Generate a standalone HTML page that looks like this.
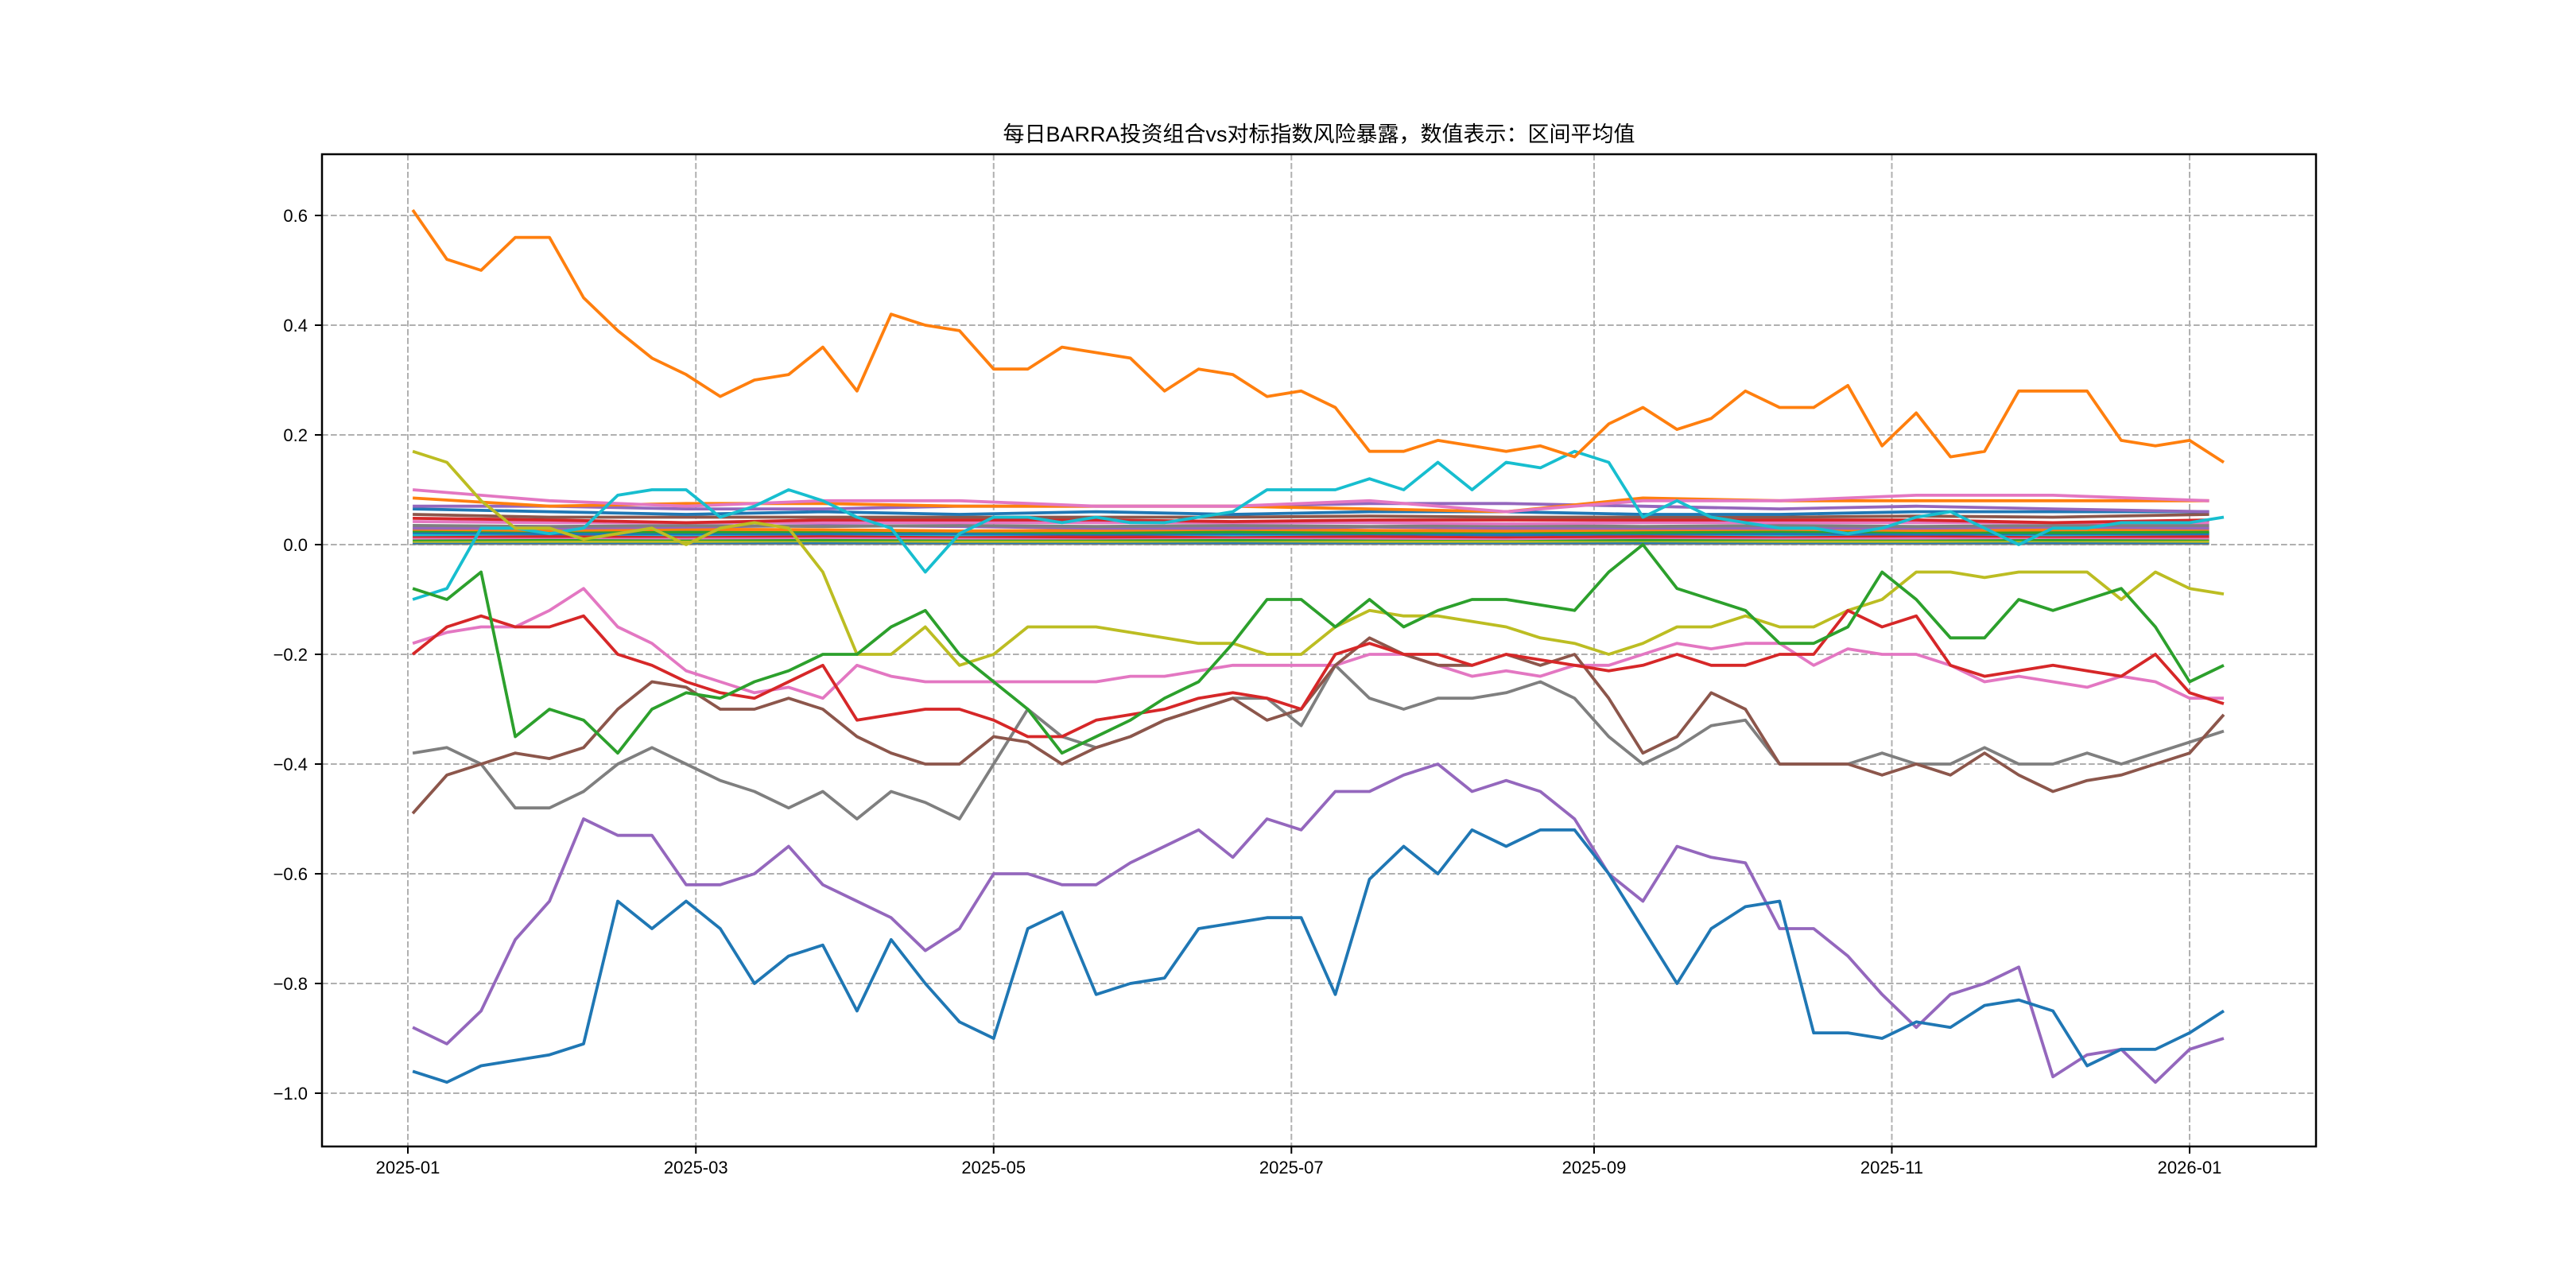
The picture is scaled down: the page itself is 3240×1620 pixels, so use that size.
<!DOCTYPE html>
<html><head><meta charset="utf-8">
<style>
html,body{margin:0;padding:0;background:#fff;}
svg{display:block;}
text{font-family:"Liberation Sans","Noto Sans CJK SC",sans-serif;fill:#000;}
</style></head>
<body>
<svg id="chart" width="3240" height="1620" viewBox="0 0 3240 1620" xmlns="http://www.w3.org/2000/svg">
<rect width="3240" height="1620" fill="#fff"/>
<text x="1659" y="178" text-anchor="middle" font-size="27">每日BARRA投资组合vs对标指数风险暴露，数值表示：区间平均值</text>
<g id="grid"></g>
<g id="series"></g>
<g id="axes"></g>
</svg>
<script>
// ---- data ----
const xTickLabels = ["2025-01","2025-03","2025-05","2025-07","2025-09","2025-11","2026-01"];
const xTickDays = [0,59,120,181,243,304,365];
const yTickValues = [0.6,0.4,0.2,0.0,-0.2,-0.4,-0.6,-0.8,-1.0];
const yTickLabels = ["0.6","0.4","0.2","0.0","−0.2","−0.4","−0.6","−0.8","−1.0"];
const weekDays = Array.from({length:54},(_,i)=>1+i*7);
const bandDays = [1,29,57,85,113,141,169,197,225,253,281,309,337,369];

const sOrangeTop = [0.61,0.52,0.50,0.56,0.56,0.45,0.39,0.34,0.31,0.27,0.30,0.31,0.36,0.28,0.42,0.40,0.39,0.32,0.32,0.36,0.35,0.34,0.28,0.32,0.31,0.27,0.28,0.25,0.17,0.17,0.19,0.18,0.17,0.18,0.16,0.22,0.25,0.21,0.23,0.28,0.25,0.25,0.29,0.18,0.24,0.16,0.17,0.28,0.28,0.28,0.19,0.18,0.19,0.15];
const sBlueLow = [-0.96,-0.98,-0.95,-0.94,-0.93,-0.91,-0.65,-0.70,-0.65,-0.70,-0.80,-0.75,-0.73,-0.85,-0.72,-0.80,-0.87,-0.90,-0.70,-0.67,-0.82,-0.80,-0.79,-0.70,-0.69,-0.68,-0.68,-0.82,-0.61,-0.55,-0.60,-0.52,-0.55,-0.52,-0.52,-0.60,-0.70,-0.80,-0.70,-0.66,-0.65,-0.89,-0.89,-0.90,-0.87,-0.88,-0.84,-0.83,-0.85,-0.95,-0.92,-0.92,-0.89,-0.85];
const sPurpleLow = [-0.88,-0.91,-0.85,-0.72,-0.65,-0.50,-0.53,-0.53,-0.62,-0.62,-0.60,-0.55,-0.62,-0.65,-0.68,-0.74,-0.70,-0.60,-0.60,-0.62,-0.62,-0.58,-0.55,-0.52,-0.57,-0.50,-0.52,-0.45,-0.45,-0.42,-0.40,-0.45,-0.43,-0.45,-0.50,-0.60,-0.65,-0.55,-0.57,-0.58,-0.70,-0.70,-0.75,-0.82,-0.88,-0.82,-0.80,-0.77,-0.97,-0.93,-0.92,-0.98,-0.92,-0.90];
const sGreen = [-0.08,-0.10,-0.05,-0.35,-0.30,-0.32,-0.38,-0.30,-0.27,-0.28,-0.25,-0.23,-0.20,-0.20,-0.15,-0.12,-0.20,-0.25,-0.30,-0.38,-0.35,-0.32,-0.28,-0.25,-0.18,-0.10,-0.10,-0.15,-0.10,-0.15,-0.12,-0.10,-0.10,-0.11,-0.12,-0.05,0.0,-0.08,-0.10,-0.12,-0.18,-0.18,-0.15,-0.05,-0.10,-0.17,-0.17,-0.10,-0.12,-0.10,-0.08,-0.15,-0.25,-0.22];
const sRed = [-0.20,-0.15,-0.13,-0.15,-0.15,-0.13,-0.20,-0.22,-0.25,-0.27,-0.28,-0.25,-0.22,-0.32,-0.31,-0.30,-0.30,-0.32,-0.35,-0.35,-0.32,-0.31,-0.30,-0.28,-0.27,-0.28,-0.30,-0.20,-0.18,-0.20,-0.20,-0.22,-0.20,-0.21,-0.22,-0.23,-0.22,-0.20,-0.22,-0.22,-0.20,-0.20,-0.12,-0.15,-0.13,-0.22,-0.24,-0.23,-0.22,-0.23,-0.24,-0.20,-0.27,-0.29];
const sPink = [-0.18,-0.16,-0.15,-0.15,-0.12,-0.08,-0.15,-0.18,-0.23,-0.25,-0.27,-0.26,-0.28,-0.22,-0.24,-0.25,-0.25,-0.25,-0.25,-0.25,-0.25,-0.24,-0.24,-0.23,-0.22,-0.22,-0.22,-0.22,-0.20,-0.20,-0.22,-0.24,-0.23,-0.24,-0.22,-0.22,-0.20,-0.18,-0.19,-0.18,-0.18,-0.22,-0.19,-0.20,-0.20,-0.22,-0.25,-0.24,-0.25,-0.26,-0.24,-0.25,-0.28,-0.28];
const sBrown = [-0.49,-0.42,-0.40,-0.38,-0.39,-0.37,-0.30,-0.25,-0.26,-0.30,-0.30,-0.28,-0.30,-0.35,-0.38,-0.40,-0.40,-0.35,-0.36,-0.40,-0.37,-0.35,-0.32,-0.30,-0.28,-0.32,-0.30,-0.22,-0.17,-0.20,-0.22,-0.22,-0.20,-0.22,-0.20,-0.28,-0.38,-0.35,-0.27,-0.30,-0.40,-0.40,-0.40,-0.42,-0.40,-0.42,-0.38,-0.42,-0.45,-0.43,-0.42,-0.40,-0.38,-0.31];
const sGray = [-0.38,-0.37,-0.40,-0.48,-0.48,-0.45,-0.40,-0.37,-0.40,-0.43,-0.45,-0.48,-0.45,-0.50,-0.45,-0.47,-0.50,-0.40,-0.30,-0.35,-0.37,-0.35,-0.32,-0.30,-0.28,-0.28,-0.33,-0.22,-0.28,-0.30,-0.28,-0.28,-0.27,-0.25,-0.28,-0.35,-0.40,-0.37,-0.33,-0.32,-0.40,-0.40,-0.40,-0.38,-0.40,-0.40,-0.37,-0.40,-0.40,-0.38,-0.40,-0.38,-0.36,-0.34];
const sOlive = [0.17,0.15,0.08,0.03,0.03,0.01,0.02,0.03,0.0,0.03,0.04,0.03,-0.05,-0.20,-0.20,-0.15,-0.22,-0.20,-0.15,-0.15,-0.15,-0.16,-0.17,-0.18,-0.18,-0.20,-0.20,-0.15,-0.12,-0.13,-0.13,-0.14,-0.15,-0.17,-0.18,-0.20,-0.18,-0.15,-0.15,-0.13,-0.15,-0.15,-0.12,-0.10,-0.05,-0.05,-0.06,-0.05,-0.05,-0.05,-0.10,-0.05,-0.08,-0.09];
const sCyan = [-0.10,-0.08,0.03,0.03,0.02,0.03,0.09,0.10,0.10,0.05,0.07,0.10,0.08,0.05,0.03,-0.05,0.02,0.05,0.05,0.04,0.05,0.04,0.04,0.05,0.06,0.10,0.10,0.10,0.12,0.10,0.15,0.10,0.15,0.14,0.17,0.15,0.05,0.08,0.05,0.04,0.03,0.03,0.02,0.03,0.05,0.06,0.03,0.0,0.03,0.03,0.04,0.04,0.04,0.05];

const b1 = [0.10,0.08,0.07,0.08,0.08,0.07,0.07,0.08,0.06,0.08,0.08,0.09,0.09,0.08];
const b2 = [0.085,0.07,0.075,0.075,0.07,0.07,0.07,0.065,0.06,0.085,0.08,0.08,0.08,0.08];
const b3 = [0.07,0.07,0.065,0.065,0.07,0.07,0.07,0.075,0.075,0.07,0.065,0.07,0.065,0.06];
const b4 = [0.065,0.06,0.055,0.06,0.055,0.06,0.055,0.06,0.06,0.055,0.055,0.06,0.06,0.06];
const b5 = [0.055,0.05,0.05,0.05,0.05,0.05,0.05,0.052,0.05,0.05,0.05,0.052,0.05,0.055];
const b6 = [0.048,0.045,0.04,0.045,0.045,0.045,0.042,0.045,0.045,0.045,0.045,0.045,0.04,0.045];
const b7 = [0.042,0.04,0.04,0.04,0.04,0.04,0.04,0.04,0.038,0.04,0.04,0.04,0.04,0.04];
const b8 = [0.035,0.033,0.035,0.033,0.035,0.033,0.035,0.033,0.035,0.033,0.035,0.033,0.035,0.035];
const b9 = [0.03,0.03,0.032,0.035,0.033,0.03,0.03,0.032,0.03,0.03,0.03,0.03,0.032,0.03];
const b10 = [0.028,0.026,0.028,0.027,0.025,0.026,0.028,0.026,0.025,0.027,0.028,0.026,0.027,0.028];
const b11 = [0.025,0.025,0.023,0.024,0.024,0.022,0.023,0.022,0.023,0.022,0.024,0.023,0.022,0.023];
const b12 = [0.022,0.02,0.02,0.02,0.02,0.019,0.02,0.02,0.018,0.02,0.02,0.019,0.02,0.02];
const b13 = [0.018,0.02,0.018,0.02,0.018,0.02,0.018,0.02,0.018,0.02,0.018,0.02,0.018,0.02];
const b14 = [0.015,0.015,0.015,0.016,0.015,0.014,0.015,0.015,0.014,0.015,0.015,0.016,0.015,0.015];
const b15 = [0.012,0.013,0.012,0.013,0.012,0.012,0.013,0.012,0.011,0.013,0.012,0.012,0.013,0.012];
const b16 = [0.009,0.01,0.01,0.009,0.01,0.01,0.009,0.01,0.01,0.009,0.01,0.01,0.009,0.01];
const b17 = [0.006,0.006,0.006,0.007,0.006,0.006,0.007,0.006,0.006,0.007,0.006,0.006,0.007,0.006];
const b18 = [0.004,0.004,0.004,0.004,0.004,0.004,0.004,0.004,0.004,0.004,0.004,0.004,0.004,0.004];
const b19 = [0.002,0.002,0.002,0.002,0.002,0.002,0.002,0.002,0.002,0.002,0.002,0.002,0.002,0.002];

// ---- layout ----
const L=405, R=2913, T=194, B=1442;
const X0=513, PXDAY=(2754-513)/365;
const Y0=685, PXUNIT=690;
const xs = d => X0 + d*PXDAY;
const ys = v => Y0 - v*PXUNIT;
const NS="http://www.w3.org/2000/svg";
function mk(tag, attrs, parent){const e=document.createElementNS(NS,tag);for(const k in attrs)e.setAttribute(k,attrs[k]);parent.appendChild(e);return e;}

const grid=document.getElementById('grid');
const axes=document.getElementById('axes');
const ser=document.getElementById('series');

xTickDays.forEach((d,i)=>{
  const gl=mk('line',{x1:xs(d),x2:xs(d),y1:T,y2:B,stroke:'#b0b0b0','stroke-width':2,'stroke-dasharray':'7.7,3.3'},grid);
  
  
  const tk=mk('line',{x1:xs(d),x2:xs(d),y1:B,y2:B+9,stroke:'#000','stroke-width':2},axes);
  
  
  const t=mk('text',{x:xs(d),y:B+34,'text-anchor':'middle','font-size':22},axes);
  t.textContent=xTickLabels[i];
  
  
});
yTickValues.forEach((v,i)=>{
  const gl=mk('line',{x1:L,x2:R,y1:ys(v),y2:ys(v),stroke:'#b0b0b0','stroke-width':2,'stroke-dasharray':'7.7,3.3'},grid);
  
  
  const tk=mk('line',{x1:L-9,x2:L,y1:ys(v),y2:ys(v),stroke:'#000','stroke-width':2},axes);
  
  
  const t=mk('text',{x:L-18,y:ys(v)+8,'text-anchor':'end','font-size':22},axes);
  t.textContent=yTickLabels[i];
  
  
});
const fr=mk('rect',{x:L,y:T,width:R-L,height:B-T,fill:'none',stroke:'#000','stroke-width':2.5},axes);



function draw(days, vals, color, name){
  const d=vals.map((v,i)=>(i?'L':'M')+xs(days[i]).toFixed(1)+','+ys(v).toFixed(1)).join(' ');
  const p=mk('path',{d:d,fill:'none',stroke:color,'stroke-width':3.8,'stroke-linejoin':'round'},ser);
  
  
}
const C=['#1f77b4','#ff7f0e','#2ca02c','#d62728','#9467bd','#8c564b','#e377c2','#7f7f7f','#bcbd22','#17becf'];
const bands=[[b19,C[7]],[b18,C[0]],[b17,C[8]],[b16,C[2]],[b15,C[6]],[b14,C[3]],[b13,C[9]],[b12,C[0]],[b11,C[2]],[b10,C[1]],[b9,C[4]],[b8,C[7]],[b7,C[6]],[b6,C[3]],[b5,C[5]],[b4,C[0]],[b3,C[4]],[b2,C[1]],[b1,C[6]]];
bands.forEach(b=>draw(bandDays,b[0],b[1],'band-series-line'));
draw(weekDays,sCyan,C[9],'series-cyan');
draw(weekDays,sOlive,C[8],'series-olive');
draw(weekDays,sGray,C[7],'series-gray');
draw(weekDays,sPink,C[6],'series-pink');
draw(weekDays,sBrown,C[5],'series-brown');
draw(weekDays,sRed,C[3],'series-red');
draw(weekDays,sGreen,C[2],'series-green');
draw(weekDays,sPurpleLow,C[4],'series-purple');
draw(weekDays,sBlueLow,C[0],'series-blue');
draw(weekDays,sOrangeTop,C[1],'series-orange');
</script>
</body></html>
